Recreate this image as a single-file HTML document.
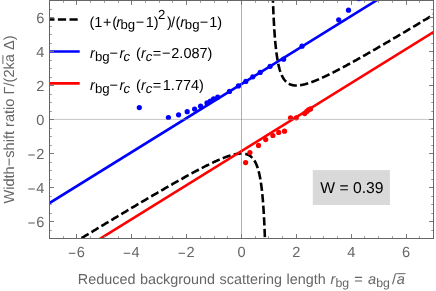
<!DOCTYPE html>
<html><head><meta charset="utf-8"><style>
html,body{margin:0;padding:0;background:#fff;}
svg{display:block;text-rendering:geometricPrecision;will-change:transform;font-family:"Liberation Sans",sans-serif;}
.tl text{font-size:14.6px;fill:#666;}
.ax{font-size:14.6px;fill:#666;}
.lg{font-size:14.65px;fill:#000;}
</style></head><body>
<svg width="436" height="291" viewBox="0 0 436 291">
<rect width="436" height="291" fill="#fff"/>
<defs><clipPath id="c"><rect x="49.5" y="0.5" width="384.0" height="238.0"/></clipPath></defs>
<g clip-path="url(#c)">
<g fill="none" stroke="#000" stroke-width="2.6" stroke-dasharray="8.3 3.3">
<path d="M80.93,238.50 L81.39,238.22 L81.85,237.94 L82.31,237.66 L82.77,237.38 L83.24,237.10 L83.70,236.82 L84.16,236.54 L84.62,236.26 L85.08,235.98 L85.54,235.70 L86.00,235.42 L86.46,235.15 L86.93,234.87 L87.39,234.59 L87.85,234.31 L88.31,234.03 L88.77,233.75 L89.23,233.47 L89.69,233.19 L90.15,232.91 L90.61,232.63 L91.08,232.35 L91.54,232.07 L92.00,231.80 L92.46,231.52 L92.92,231.24 L93.38,230.96 L93.84,230.68 L94.30,230.40 L94.76,230.12 L95.23,229.84 L95.69,229.57 L96.15,229.29 L96.61,229.01 L97.07,228.73 L97.53,228.45 L97.99,228.17 L98.45,227.89 L98.92,227.62 L99.38,227.34 L99.84,227.06 L100.30,226.78 L100.76,226.50 L101.22,226.22 L101.68,225.95 L102.14,225.67 L102.60,225.39 L103.07,225.11 L103.53,224.83 L103.99,224.56 L104.45,224.28 L104.91,224.00 L105.37,223.72 L105.83,223.44 L106.29,223.17 L106.75,222.89 L107.22,222.61 L107.68,222.33 L108.14,222.06 L108.60,221.78 L109.06,221.50 L109.52,221.22 L109.98,220.95 L110.44,220.67 L110.90,220.39 L111.37,220.12 L111.83,219.84 L112.29,219.56 L112.75,219.28 L113.21,219.01 L113.67,218.73 L114.13,218.45 L114.59,218.18 L115.06,217.90 L115.52,217.62 L115.98,217.35 L116.44,217.07 L116.90,216.79 L117.36,216.52 L117.82,216.24 L118.28,215.96 L118.74,215.69 L119.21,215.41 L119.67,215.14 L120.13,214.86 L120.59,214.58 L121.05,214.31 L121.51,214.03 L121.97,213.76 L122.43,213.48 L122.89,213.20 L123.36,212.93 L123.82,212.65 L124.28,212.38 L124.74,212.10 L125.20,211.83 L125.66,211.55 L126.12,211.28 L126.58,211.00 L127.04,210.72 L127.51,210.45 L127.97,210.17 L128.43,209.90 L128.89,209.62 L129.35,209.35 L129.81,209.08 L130.27,208.80 L130.73,208.53 L131.20,208.25 L131.66,207.98 L132.12,207.70 L132.58,207.43 L133.04,207.15 L133.50,206.88 L133.96,206.61 L134.42,206.33 L134.88,206.06 L135.35,205.78 L135.81,205.51 L136.27,205.24 L136.73,204.96 L137.19,204.69 L137.65,204.42 L138.11,204.14 L138.57,203.87 L139.03,203.60 L139.50,203.32 L139.96,203.05 L140.42,202.78 L140.88,202.51 L141.34,202.23 L141.80,201.96 L142.26,201.69 L142.72,201.42 L143.18,201.14 L143.65,200.87 L144.11,200.60 L144.57,200.33 L145.03,200.06 L145.49,199.78 L145.95,199.51 L146.41,199.24 L146.87,198.97 L147.34,198.70 L147.80,198.43 L148.26,198.16 L148.72,197.88 L149.18,197.61 L149.64,197.34 L150.10,197.07 L150.56,196.80 L151.02,196.53 L151.49,196.26 L151.95,195.99 L152.41,195.72 L152.87,195.45 L153.33,195.18 L153.79,194.91 L154.25,194.64 L154.71,194.37 L155.17,194.10 L155.64,193.83 L156.10,193.56 L156.56,193.30 L157.02,193.03 L157.48,192.76 L157.94,192.49 L158.40,192.22 L158.86,191.95 L159.32,191.69 L159.79,191.42 L160.25,191.15 L160.71,190.88 L161.17,190.62 L161.63,190.35 L162.09,190.08 L162.55,189.81 L163.01,189.55 L163.48,189.28 L163.94,189.01 L164.40,188.75 L164.86,188.48 L165.32,188.22 L165.78,187.95 L166.24,187.69 L166.70,187.42 L167.16,187.15 L167.63,186.89 L168.09,186.62 L168.55,186.36 L169.01,186.10 L169.47,185.83 L169.93,185.57 L170.39,185.30 L170.85,185.04 L171.31,184.78 L171.78,184.51 L172.24,184.25 L172.70,183.99 L173.16,183.73 L173.62,183.46 L174.08,183.20 L174.54,182.94 L175.00,182.68 L175.46,182.42 L175.93,182.16 L176.39,181.90 L176.85,181.63 L177.31,181.37 L177.77,181.11 L178.23,180.85 L178.69,180.59 L179.15,180.34 L179.62,180.08 L180.08,179.82 L180.54,179.56 L181.00,179.30 L181.46,179.04 L181.92,178.79 L182.38,178.53 L182.84,178.27 L183.30,178.01 L183.77,177.76 L184.23,177.50 L184.69,177.25 L185.15,176.99 L185.61,176.74 L186.07,176.48 L186.53,176.23 L186.99,175.97 L187.45,175.72 L187.92,175.47 L188.38,175.21 L188.84,174.96 L189.30,174.71 L189.76,174.46 L190.22,174.21 L190.68,173.96 L191.14,173.70 L191.60,173.45 L192.07,173.21 L192.53,172.96 L192.99,172.71 L193.45,172.46 L193.91,172.21 L194.37,171.96 L194.83,171.72 L195.29,171.47 L195.76,171.22 L196.22,170.98 L196.68,170.73 L197.14,170.49 L197.60,170.25 L198.06,170.00 L198.52,169.76 L198.98,169.52 L199.44,169.28 L199.91,169.04 L200.37,168.80 L200.83,168.56 L201.29,168.32 L201.75,168.08 L202.21,167.84 L202.67,167.60 L203.13,167.37 L203.59,167.13 L204.06,166.90 L204.52,166.66 L204.98,166.43 L205.44,166.19 L205.90,165.96 L206.36,165.73 L206.82,165.50 L207.28,165.27 L207.74,165.04 L208.21,164.81 L208.67,164.59 L209.13,164.36 L209.59,164.14 L210.05,163.91 L210.51,163.69 L210.97,163.47 L211.43,163.24 L211.90,163.02 L212.36,162.81 L212.82,162.59 L213.28,162.37 L213.74,162.15 L214.20,161.94 L214.66,161.73 L215.12,161.51 L215.58,161.30 L216.05,161.09 L216.51,160.89 L216.97,160.68 L217.43,160.47 L217.89,160.27 L218.35,160.07 L218.81,159.87 L219.27,159.67 L219.73,159.47 L220.20,159.27 L220.66,159.08 L221.12,158.89 L221.58,158.69 L222.04,158.51 L222.50,158.32 L222.96,158.13 L223.42,157.95 L223.88,157.77 L224.35,157.59 L224.81,157.41 L225.27,157.24 L225.73,157.07 L226.19,156.90 L226.65,156.73 L227.11,156.57 L227.57,156.41 L228.04,156.25 L228.50,156.09 L228.96,155.94 L229.42,155.79 L229.88,155.64 L230.34,155.50 L230.80,155.36 L231.26,155.22 L231.72,155.09 L232.19,154.96 L232.65,154.84 L233.11,154.72 L233.57,154.60 L234.03,154.49 L234.49,154.38 L234.95,154.28 L235.41,154.19 L235.87,154.09 L236.34,154.01 L236.80,153.93 L237.26,153.85 L237.72,153.78 L238.18,153.72 L238.64,153.67 L239.10,153.62 L239.56,153.58 L240.03,153.55 L240.49,153.52 L240.95,153.51 L241.41,153.50 L241.87,153.50 L242.33,153.52 L242.79,153.54 L243.25,153.57 L243.71,153.62 L244.18,153.68 L244.64,153.75 L245.10,153.84 L245.56,153.94 L246.02,154.05 L246.48,154.19 L246.94,154.33 L247.40,154.50 L247.86,154.69 L248.33,154.90 L248.79,155.13 L249.25,155.39 L249.71,155.67 L250.17,155.98 L250.63,156.32 L251.09,156.70 L251.55,157.11 L252.01,157.55 L252.48,158.04 L252.94,158.57 L253.40,159.15 L253.86,159.78 L254.32,160.47 L254.78,161.23 L255.24,162.05 L255.70,162.96 L256.17,163.94 L256.63,165.03 L257.09,166.22 L257.55,167.53 L258.01,168.97 L258.47,170.57 L258.93,172.34 L259.39,174.31 L259.85,176.51 L260.32,178.97 L260.78,181.75 L261.24,184.89 L261.70,188.48 L262.16,192.58 L262.62,197.34 L263.08,202.88 L263.54,209.42 L264.00,217.25 L264.47,226.75 L264.93,238.50" stroke-dashoffset="-0.7"/><path d="M272.93,0.50 L273.33,10.90 L273.74,19.51 L274.14,26.76 L274.54,32.93 L274.94,38.24 L275.34,42.85 L275.75,46.89 L276.15,50.45 L276.55,53.61 L276.95,56.43 L277.36,58.95 L277.76,61.23 L278.16,63.28 L278.56,65.14 L278.97,66.83 L279.37,68.37 L279.77,69.78 L280.17,71.07 L280.58,72.25 L280.98,73.34 L281.38,74.34 L281.78,75.26 L282.19,76.11 L282.59,76.90 L282.99,77.63 L283.39,78.30 L283.80,78.92 L284.20,79.50 L284.60,80.03 L285.00,80.53 L285.41,80.99 L285.81,81.41 L286.21,81.81 L286.61,82.17 L287.02,82.51 L287.42,82.82 L287.82,83.11 L288.22,83.37 L288.63,83.62 L289.03,83.84 L289.43,84.05 L289.83,84.24 L290.23,84.41 L290.64,84.57 L291.04,84.71 L291.44,84.83 L291.84,84.95 L292.25,85.05 L292.65,85.14 L293.05,85.22 L293.45,85.29 L293.86,85.34 L294.26,85.39 L294.66,85.43 L295.06,85.46 L295.47,85.48 L295.87,85.49 L296.27,85.50 L296.67,85.50 L297.08,85.49 L297.48,85.47 L297.88,85.45 L298.28,85.42 L298.69,85.39 L299.09,85.35 L299.49,85.30 L299.89,85.25 L300.30,85.19 L300.70,85.13 L301.10,85.07 L301.50,85.00 L301.91,84.92 L302.31,84.84 L302.71,84.76 L303.11,84.67 L303.52,84.58 L303.92,84.49 L304.32,84.39 L304.72,84.29 L305.12,84.18 L305.53,84.08 L305.93,83.97 L306.33,83.85 L306.73,83.73 L307.14,83.62 L307.54,83.49 L307.94,83.37 L308.34,83.24 L308.75,83.11 L309.15,82.98 L309.55,82.84 L309.95,82.71 L310.36,82.57 L310.76,82.43 L311.16,82.28 L311.56,82.14 L311.97,81.99 L312.37,81.84 L312.77,81.69 L313.17,81.54 L313.58,81.38 L313.98,81.23 L314.38,81.07 L314.78,80.91 L315.19,80.75 L315.59,80.59 L315.99,80.42 L316.39,80.26 L316.80,80.09 L317.20,79.92 L317.60,79.75 L318.00,79.58 L318.40,79.41 L318.81,79.24 L319.21,79.06 L319.61,78.89 L320.01,78.71 L320.42,78.53 L320.82,78.35 L321.22,78.17 L321.62,77.99 L322.03,77.81 L322.43,77.63 L322.83,77.44 L323.23,77.26 L323.64,77.07 L324.04,76.88 L324.44,76.69 L324.84,76.51 L325.25,76.32 L325.65,76.12 L326.05,75.93 L326.45,75.74 L326.86,75.55 L327.26,75.35 L327.66,75.16 L328.06,74.96 L328.47,74.77 L328.87,74.57 L329.27,74.37 L329.67,74.17 L330.08,73.98 L330.48,73.78 L330.88,73.58 L331.28,73.38 L331.69,73.17 L332.09,72.97 L332.49,72.77 L332.89,72.57 L333.29,72.36 L333.70,72.16 L334.10,71.95 L334.50,71.75 L334.90,71.54 L335.31,71.33 L335.71,71.13 L336.11,70.92 L336.51,70.71 L336.92,70.50 L337.32,70.29 L337.72,70.08 L338.12,69.87 L338.53,69.66 L338.93,69.45 L339.33,69.24 L339.73,69.03 L340.14,68.82 L340.54,68.61 L340.94,68.39 L341.34,68.18 L341.75,67.96 L342.15,67.75 L342.55,67.54 L342.95,67.32 L343.36,67.11 L343.76,66.89 L344.16,66.67 L344.56,66.46 L344.97,66.24 L345.37,66.02 L345.77,65.81 L346.17,65.59 L346.58,65.37 L346.98,65.15 L347.38,64.93 L347.78,64.71 L348.18,64.49 L348.59,64.27 L348.99,64.05 L349.39,63.83 L349.79,63.61 L350.20,63.39 L350.60,63.17 L351.00,62.95 L351.40,62.73 L351.81,62.51 L352.21,62.28 L352.61,62.06 L353.01,61.84 L353.42,61.62 L353.82,61.39 L354.22,61.17 L354.62,60.95 L355.03,60.72 L355.43,60.50 L355.83,60.27 L356.23,60.05 L356.64,59.82 L357.04,59.60 L357.44,59.37 L357.84,59.15 L358.25,58.92 L358.65,58.70 L359.05,58.47 L359.45,58.24 L359.86,58.02 L360.26,57.79 L360.66,57.56 L361.06,57.34 L361.46,57.11 L361.87,56.88 L362.27,56.65 L362.67,56.42 L363.07,56.20 L363.48,55.97 L363.88,55.74 L364.28,55.51 L364.68,55.28 L365.09,55.05 L365.49,54.82 L365.89,54.59 L366.29,54.36 L366.70,54.13 L367.10,53.91 L367.50,53.67 L367.90,53.44 L368.31,53.21 L368.71,52.98 L369.11,52.75 L369.51,52.52 L369.92,52.29 L370.32,52.06 L370.72,51.83 L371.12,51.60 L371.53,51.37 L371.93,51.13 L372.33,50.90 L372.73,50.67 L373.14,50.44 L373.54,50.21 L373.94,49.97 L374.34,49.74 L374.75,49.51 L375.15,49.28 L375.55,49.04 L375.95,48.81 L376.35,48.58 L376.76,48.34 L377.16,48.11 L377.56,47.88 L377.96,47.64 L378.37,47.41 L378.77,47.18 L379.17,46.94 L379.57,46.71 L379.98,46.47 L380.38,46.24 L380.78,46.01 L381.18,45.77 L381.59,45.54 L381.99,45.30 L382.39,45.07 L382.79,44.83 L383.20,44.60 L383.60,44.36 L384.00,44.13 L384.40,43.89 L384.81,43.66 L385.21,43.42 L385.61,43.19 L386.01,42.95 L386.42,42.71 L386.82,42.48 L387.22,42.24 L387.62,42.01 L388.03,41.77 L388.43,41.53 L388.83,41.30 L389.23,41.06 L389.64,40.82 L390.04,40.59 L390.44,40.35 L390.84,40.11 L391.24,39.88 L391.65,39.64 L392.05,39.40 L392.45,39.17 L392.85,38.93 L393.26,38.69 L393.66,38.45 L394.06,38.22 L394.46,37.98 L394.87,37.74 L395.27,37.50 L395.67,37.27 L396.07,37.03 L396.48,36.79 L396.88,36.55 L397.28,36.32 L397.68,36.08 L398.09,35.84 L398.49,35.60 L398.89,35.36 L399.29,35.12 L399.70,34.89 L400.10,34.65 L400.50,34.41 L400.90,34.17 L401.31,33.93 L401.71,33.69 L402.11,33.45 L402.51,33.21 L402.92,32.98 L403.32,32.74 L403.72,32.50 L404.12,32.26 L404.53,32.02 L404.93,31.78 L405.33,31.54 L405.73,31.30 L406.13,31.06 L406.54,30.82 L406.94,30.58 L407.34,30.34 L407.74,30.10 L408.15,29.86 L408.55,29.62 L408.95,29.38 L409.35,29.14 L409.76,28.90 L410.16,28.66 L410.56,28.42 L410.96,28.18 L411.37,27.94 L411.77,27.70 L412.17,27.46 L412.57,27.22 L412.98,26.98 L413.38,26.74 L413.78,26.50 L414.18,26.26 L414.59,26.02 L414.99,25.78 L415.39,25.54 L415.79,25.30 L416.20,25.06 L416.60,24.82 L417.00,24.58 L417.40,24.34 L417.81,24.10 L418.21,23.85 L418.61,23.61 L419.01,23.37 L419.41,23.13 L419.82,22.89 L420.22,22.65 L420.62,22.41 L421.02,22.17 L421.43,21.93 L421.83,21.68 L422.23,21.44 L422.63,21.20 L423.04,20.96 L423.44,20.72 L423.84,20.48 L424.24,20.23 L424.65,19.99 L425.05,19.75 L425.45,19.51 L425.85,19.27 L426.26,19.03 L426.66,18.78 L427.06,18.54 L427.46,18.30 L427.87,18.06 L428.27,17.82 L428.67,17.57 L429.07,17.33 L429.48,17.09 L429.88,16.85 L430.28,16.61 L430.68,16.36 L431.09,16.12 L431.49,15.88 L431.89,15.64 L432.29,15.39 L432.70,15.15 L433.10,14.91 L433.50,14.67" stroke-dashoffset="6.0"/>
</g>
<line x1="49.5" y1="203.02100000000002" x2="433.5" y2="-34.978999999999985" stroke="#0000ff" stroke-width="2.6"/>
<line x1="49.5" y1="270.12" x2="433.5" y2="32.120000000000005" stroke="#ff0000" stroke-width="2.6"/>
<circle cx="139.3" cy="107.6" r="2.6" fill="#0000ff"/><circle cx="168.4" cy="117.5" r="2.6" fill="#0000ff"/><circle cx="178.6" cy="114.8" r="2.6" fill="#0000ff"/><circle cx="187.2" cy="111.7" r="2.6" fill="#0000ff"/><circle cx="194.6" cy="109" r="2.6" fill="#0000ff"/><circle cx="200.6" cy="106.2" r="2.6" fill="#0000ff"/><circle cx="207" cy="102.9" r="2.6" fill="#0000ff"/><circle cx="210.3" cy="101" r="2.6" fill="#0000ff"/><circle cx="213.6" cy="98.8" r="2.6" fill="#0000ff"/><circle cx="217.7" cy="97.2" r="2.6" fill="#0000ff"/><circle cx="229.5" cy="91.4" r="2.6" fill="#0000ff"/><circle cx="238.4" cy="85.9" r="2.6" fill="#0000ff"/><circle cx="245.8" cy="81.4" r="2.6" fill="#0000ff"/><circle cx="252.8" cy="76.8" r="2.6" fill="#0000ff"/><circle cx="260.2" cy="72.4" r="2.6" fill="#0000ff"/><circle cx="270.1" cy="66.3" r="2.6" fill="#0000ff"/><circle cx="283.6" cy="59.2" r="2.6" fill="#0000ff"/><circle cx="302" cy="46.2" r="2.6" fill="#0000ff"/><circle cx="338.7" cy="19.8" r="2.6" fill="#0000ff"/><circle cx="348.5" cy="10.2" r="2.6" fill="#0000ff"/><circle cx="245.6" cy="162.6" r="2.6" fill="#ff0000"/><circle cx="249.9" cy="152.5" r="2.6" fill="#ff0000"/><circle cx="258.5" cy="145.4" r="2.6" fill="#ff0000"/><circle cx="265.7" cy="139.6" r="2.6" fill="#ff0000"/><circle cx="272.9" cy="135.5" r="2.6" fill="#ff0000"/><circle cx="278.7" cy="132.4" r="2.6" fill="#ff0000"/><circle cx="284.5" cy="131.2" r="2.6" fill="#ff0000"/><circle cx="290.5" cy="117.8" r="2.6" fill="#ff0000"/><circle cx="296.3" cy="117.8" r="2.6" fill="#ff0000"/><circle cx="304.7" cy="113.6" r="2.6" fill="#ff0000"/><circle cx="306.8" cy="111.4" r="2.6" fill="#ff0000"/><circle cx="308.4" cy="109.9" r="2.6" fill="#ff0000"/><circle cx="310.5" cy="108.9" r="2.6" fill="#ff0000"/>
<line x1="49.5" y1="119.4" x2="433.5" y2="119.4" stroke="#8c8c8c" stroke-width="0.5"/>
<line x1="241.5" y1="0.5" x2="241.5" y2="238.5" stroke="#8c8c8c" stroke-width="0.7"/>
<rect x="312.8" y="170.1" width="77.1" height="34.9" fill="#d9d9d9"/>
<line x1="46.3" y1="19.5" x2="79.7" y2="19.5" stroke="#000" stroke-width="2.6" stroke-dasharray="8.2 3.4"/>
<line x1="46.3" y1="51.5" x2="79.7" y2="51.5" stroke="#0000ff" stroke-width="2.6"/>
<line x1="46.3" y1="83.4" x2="79.7" y2="83.4" stroke="#ff0000" stroke-width="2.6"/>
</g>
<path d="M76.50 238.5 v-4.4 M76.50 0.5 v4.4 M49.5 221.50 h4.4 M433.5 221.50 h-4.4 M131.50 238.5 v-4.4 M131.50 0.5 v4.4 M49.5 187.50 h4.4 M433.5 187.50 h-4.4 M186.50 238.5 v-4.4 M186.50 0.5 v4.4 M49.5 153.50 h4.4 M433.5 153.50 h-4.4 M241.50 238.5 v-4.4 M241.50 0.5 v4.4 M49.5 119.50 h4.4 M433.5 119.50 h-4.4 M296.50 238.5 v-4.4 M296.50 0.5 v4.4 M49.5 85.50 h4.4 M433.5 85.50 h-4.4 M351.50 238.5 v-4.4 M351.50 0.5 v4.4 M49.5 51.50 h4.4 M433.5 51.50 h-4.4 M406.50 238.5 v-4.4 M406.50 0.5 v4.4 M49.5 17.50 h4.4 M433.5 17.50 h-4.4" stroke="#777" stroke-width="1" fill="none"/><path d="M49.50 238.5 v-2.3 M49.50 0.5 v2.3 M49.5 238.50 h2.3 M433.5 238.50 h-2.3 M63.50 238.5 v-2.3 M63.50 0.5 v2.3 M49.5 230.50 h2.3 M433.5 230.50 h-2.3 M90.50 238.5 v-2.3 M90.50 0.5 v2.3 M49.5 213.50 h2.3 M433.5 213.50 h-2.3 M104.50 238.5 v-2.3 M104.50 0.5 v2.3 M49.5 204.50 h2.3 M433.5 204.50 h-2.3 M118.50 238.5 v-2.3 M118.50 0.5 v2.3 M49.5 196.50 h2.3 M433.5 196.50 h-2.3 M145.50 238.5 v-2.3 M145.50 0.5 v2.3 M49.5 179.50 h2.3 M433.5 179.50 h-2.3 M159.50 238.5 v-2.3 M159.50 0.5 v2.3 M49.5 170.50 h2.3 M433.5 170.50 h-2.3 M172.50 238.5 v-2.3 M172.50 0.5 v2.3 M49.5 162.50 h2.3 M433.5 162.50 h-2.3 M200.50 238.5 v-2.3 M200.50 0.5 v2.3 M49.5 145.50 h2.3 M433.5 145.50 h-2.3 M214.50 238.5 v-2.3 M214.50 0.5 v2.3 M49.5 136.50 h2.3 M433.5 136.50 h-2.3 M227.50 238.5 v-2.3 M227.50 0.5 v2.3 M49.5 128.50 h2.3 M433.5 128.50 h-2.3 M255.50 238.5 v-2.3 M255.50 0.5 v2.3 M49.5 111.50 h2.3 M433.5 111.50 h-2.3 M268.50 238.5 v-2.3 M268.50 0.5 v2.3 M49.5 102.50 h2.3 M433.5 102.50 h-2.3 M282.50 238.5 v-2.3 M282.50 0.5 v2.3 M49.5 94.50 h2.3 M433.5 94.50 h-2.3 M310.50 238.5 v-2.3 M310.50 0.5 v2.3 M49.5 77.50 h2.3 M433.5 77.50 h-2.3 M323.50 238.5 v-2.3 M323.50 0.5 v2.3 M49.5 68.50 h2.3 M433.5 68.50 h-2.3 M337.50 238.5 v-2.3 M337.50 0.5 v2.3 M49.5 60.50 h2.3 M433.5 60.50 h-2.3 M364.50 238.5 v-2.3 M364.50 0.5 v2.3 M49.5 43.50 h2.3 M433.5 43.50 h-2.3 M378.50 238.5 v-2.3 M378.50 0.5 v2.3 M49.5 34.50 h2.3 M433.5 34.50 h-2.3 M392.50 238.5 v-2.3 M392.50 0.5 v2.3 M49.5 26.50 h2.3 M433.5 26.50 h-2.3 M419.50 238.5 v-2.3 M419.50 0.5 v2.3 M49.5 9.50 h2.3 M433.5 9.50 h-2.3 M433.50 238.5 v-2.3 M433.50 0.5 v2.3 M49.5 0.50 h2.3 M433.5 0.50 h-2.3" stroke="#999" stroke-width="1" fill="none"/>
<rect x="49.5" y="0.5" width="384.0" height="238.0" fill="none" stroke="#666" stroke-width="1"/>
<circle cx="358.9" cy="-1.2" r="2.6" fill="#0000ff" opacity="0.55"/>
<g class="tl"><path d="M68.83 253.29999999999998 H75.33" stroke="#666" stroke-width="1.1"/><text x="76.73" y="256.9">6</text><path d="M123.69 253.29999999999998 H130.19" stroke="#666" stroke-width="1.1"/><text x="131.59" y="256.9">4</text><path d="M178.54 253.29999999999998 H185.04" stroke="#666" stroke-width="1.1"/><text x="186.44" y="256.9">2</text><text x="241.50" y="256.9" text-anchor="middle">0</text><text x="296.36" y="256.9" text-anchor="middle">2</text><text x="351.21" y="256.9" text-anchor="middle">4</text><text x="406.07" y="256.9" text-anchor="middle">6</text><text x="44.3" y="226.60" text-anchor="end">6</text><path d="M28.28 223.00 H34.78" stroke="#666" stroke-width="1.1"/><text x="44.3" y="192.60" text-anchor="end">4</text><path d="M28.28 189.00 H34.78" stroke="#666" stroke-width="1.1"/><text x="44.3" y="158.60" text-anchor="end">2</text><path d="M28.28 155.00 H34.78" stroke="#666" stroke-width="1.1"/><text x="44.3" y="124.60" text-anchor="end">0</text><text x="44.3" y="90.60" text-anchor="end">2</text><text x="44.3" y="56.60" text-anchor="end">4</text><text x="44.3" y="22.60" text-anchor="end">6</text></g>
<text x="89.4" y="26.50" font-size="14.5">(1</text><text x="103.1" y="26.50" font-size="14.5">+</text><text x="112.2" y="26.50" font-size="14.5">(</text><text x="116.3" y="26.50" font-size="14.5" font-style="italic">r</text><text x="120.5" y="28.80" font-size="13.2">bg</text><text x="135.8" y="26.50" font-size="14.5">−</text><text x="145.7" y="26.50" font-size="14.5">1)</text><text x="158.0" y="19.40" font-size="13.2">2</text><text x="167.1" y="26.50" font-size="14.5">)</text><text x="170.9" y="26.50" font-size="14.5">/</text><text x="175.6" y="26.50" font-size="14.5">(</text><text x="180.3" y="26.50" font-size="14.5" font-style="italic">r</text><text x="184.8" y="28.80" font-size="13.2">bg</text><text x="199.8" y="26.50" font-size="14.5">−</text><text x="209.3" y="26.50" font-size="14.5">1)</text><text x="89.9" y="58.40" font-size="14.5" font-style="italic">r</text><text x="94.9" y="60.70" font-size="13.2">bg</text><text x="109.6" y="58.40" font-size="14.5">−</text><text x="119.6" y="58.40" font-size="14.5" font-style="italic">r</text><text x="123.6" y="60.70" font-size="13.2" font-style="italic">c</text><text x="136.0" y="58.40" font-size="14.5">(</text><text x="141.0" y="58.40" font-size="14.5" font-style="italic">r</text><text x="145.7" y="60.70" font-size="13.2" font-style="italic">c</text><text x="152.7" y="58.40" font-size="14.5">=</text><text x="162.0" y="58.40" font-size="14.5">−</text><text x="171.3" y="58.40" font-size="14.5">2.087)</text><text x="89.9" y="90.30" font-size="14.5" font-style="italic">r</text><text x="94.9" y="92.60" font-size="13.2">bg</text><text x="109.6" y="90.30" font-size="14.5">−</text><text x="119.6" y="90.30" font-size="14.5" font-style="italic">r</text><text x="123.6" y="92.60" font-size="13.2" font-style="italic">c</text><text x="136.0" y="90.30" font-size="14.5">(</text><text x="141.0" y="90.30" font-size="14.5" font-style="italic">r</text><text x="145.7" y="92.60" font-size="13.2" font-style="italic">c</text><text x="152.7" y="90.30" font-size="14.5">=</text><text x="162.8" y="90.30" font-size="14.5">1.774)</text>
<text x="320.3" y="193" font-size="15.7" fill="#000">W = 0.39</text>
<g fill="#666"><text x="77.8" y="284.2" font-size="14.4" word-spacing="0.5">Reduced background scattering length</text><text x="330.6" y="284.2" font-size="14.65" font-style="italic">r</text><text x="335.4" y="286.59999999999997" font-size="12.3">bg</text><text x="354.3" y="284.2" font-size="14.65">=</text><text x="368.0" y="284.2" font-size="14.65" font-style="italic">a</text><text x="376.2" y="286.59999999999997" font-size="12.3">bg</text><text x="391.9" y="284.2" font-size="14.65">/</text><text x="396.7" y="284.2" font-size="14.65" font-style="italic">a</text></g>
<line x1="396.2" y1="273.7" x2="405.5" y2="273.7" stroke="#666" stroke-width="1"/>
<text class="ax" transform="translate(14.35 203.6) rotate(-90)">Width−shift ratio Γ/(2ka Δ)</text>
<line x1="2.9" y1="55.2" x2="2.9" y2="64" stroke="#666" stroke-width="1"/>
</svg>
</body></html>
